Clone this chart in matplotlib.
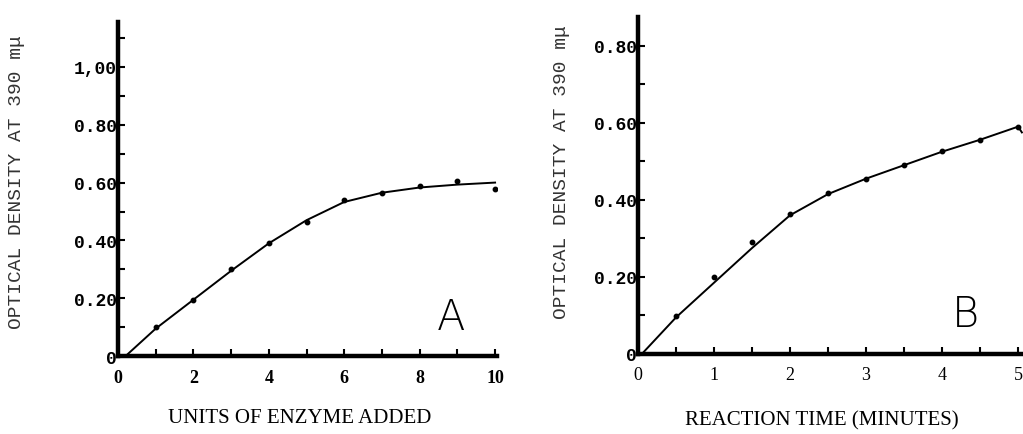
"""
Enzyme assay: optical density vs enzyme units (A) and reaction time (B).
"""

import matplotlib
matplotlib.use("Agg")
import matplotlib.pyplot as plt
from matplotlib.ticker import MultipleLocator

# panel A data
units = [1, 2, 3, 4, 5, 6, 7, 8, 9, 10]
od_units = [0.10, 0.195, 0.30, 0.39, 0.464, 0.54, 0.564, 0.588, 0.606, 0.578]
# drawn curve through panel A
curve_a_x = [0.2, 1, 2, 3, 4, 5, 6, 7, 8, 9, 10]
curve_a_y = [0.0, 0.095, 0.195, 0.295, 0.39, 0.47, 0.533, 0.565, 0.583, 0.593, 0.60]

# panel B data
minutes = [0.5, 1.0, 1.5, 2.0, 2.5, 3.0, 3.5, 4.0, 4.5, 5.0]
od_time = [0.099, 0.20, 0.29, 0.364, 0.418, 0.455, 0.49, 0.527, 0.556, 0.59]
curve_b_x = [0.05, 0.5, 1.0, 1.5, 2.0, 2.5, 3.0, 3.5, 4.0, 4.5, 5.0, 5.05]
curve_b_y = [0.0, 0.095, 0.185, 0.275, 0.36, 0.415, 0.455, 0.49, 0.525, 0.556, 0.59, 0.575]

a_yticks = [0, 0.2, 0.4, 0.6, 0.8, 1.0]
a_yticklabels = ["0", "0.20", "0.40", "0.60", "0.80", "1,00"]
a_xticks = [0, 2, 4, 6, 8, 10]
b_yticks = [0, 0.2, 0.4, 0.6, 0.8]
b_yticklabels = ["0", "0.20", "0.40", "0.60", "0.80"]
b_xticks = [0, 1, 2, 3, 4, 5]

YLABEL = "OPTICAL DENSITY AT 390 m\u03bc"

fig = plt.figure(figsize=(10.23, 4.35), dpi=100)
ax1 = fig.add_axes([0.1153, 0.179, 0.3705, 0.768])
ax2 = fig.add_axes([0.6237, 0.184, 0.3767, 0.775])


def style_axes(ax):
    """Thick left/bottom spines, inward ticks."""
    for side in ("top", "right"):
        ax.spines[side].set_visible(False)
    for side in ("left", "bottom"):
        ax.spines[side].set_linewidth(3.2)
    ax.tick_params(which="both", direction="in", width=1.5, length=5)
    ax.tick_params(axis="x", which="both", pad=9)
    ax.tick_params(axis="y", which="both", pad=1)


# ---- panel A
ax1.plot(curve_a_x, curve_a_y, color="black", lw=1.4)
ax1.plot(units, od_units, "o", color="black", ms=3.2)
ax1.set_xlim(0, 10.05)
ax1.set_ylim(0, 1.155)
style_axes(ax1)
ax1.set_yticks(a_yticks)
ax1.set_yticklabels(a_yticklabels, family="Liberation Mono", fontweight="bold", fontsize=13)
ax1.yaxis.set_minor_locator(MultipleLocator(0.1))
ax1.set_xticks(a_xticks)
ax1.set_xticklabels([str(t) for t in a_xticks], family="Liberation Serif", fontweight="bold", fontsize=13)
ax1.xaxis.set_minor_locator(MultipleLocator(1))
ax1.set_ylabel(YLABEL, family="Liberation Mono", fontsize=14, color="#333333")
ax1.yaxis.set_label_coords(-0.245, 0.524)
fig.text(0.293, 0.039, "UNITS OF ENZYME ADDED", family="Liberation Serif",
         fontsize=15, ha="center", va="center")
ax1.text(0.88, 0.12, "A", transform=ax1.transAxes, family="DejaVu Sans",
         fontsize=30, fontweight="light", ha="center", va="center")

# ---- panel B
ax2.plot(curve_b_x, curve_b_y, color="black", lw=1.4, clip_on=False)
ax2.plot(minutes, od_time, "o", color="black", ms=3.2, clip_on=False)
ax2.set_xlim(0, 5.07)
ax2.set_ylim(0, 0.875)
style_axes(ax2)
ax2.set_yticks(b_yticks)
ax2.set_yticklabels(b_yticklabels, family="Liberation Mono", fontweight="bold", fontsize=13)
ax2.yaxis.set_minor_locator(MultipleLocator(0.1))
ax2.set_xticks(b_xticks)
ax2.set_xticklabels([str(t) for t in b_xticks], family="Liberation Serif", fontsize=13)
ax2.xaxis.set_minor_locator(MultipleLocator(0.5))
ax2.set_ylabel(YLABEL, family="Liberation Mono", fontsize=14, color="#333333")
ax2.yaxis.set_label_coords(-0.177, 0.543)
fig.text(0.803, 0.032, "REACTION TIME (MINUTES)", family="Liberation Serif",
         fontsize=15, ha="center", va="center")
ax2.text(0.85, 0.12, "B", transform=ax2.transAxes, family="DejaVu Sans",
         fontsize=30, fontweight="light", ha="center", va="center")

fig.savefig("out.png", dpi=100)
